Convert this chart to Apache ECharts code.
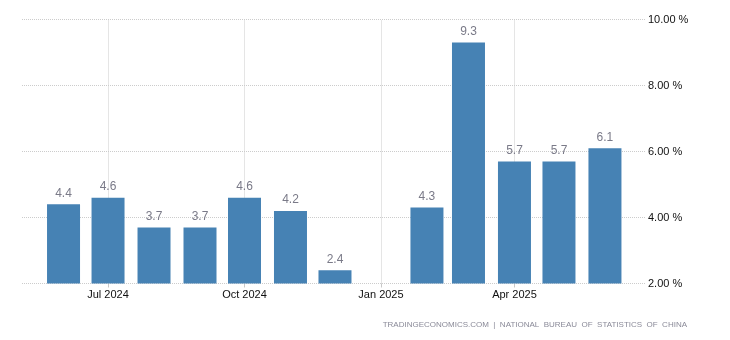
<!DOCTYPE html>
<html>
<head>
<meta charset="utf-8">
<script src="https://cdn.jsdelivr.net/npm/echarts@6/dist/echarts.min.js"></script>
<style>
  html, body { margin: 0; padding: 0; background: #fff; }
  #chart { width: 730px; height: 340px; }
</style>
</head>
<body>
<div id="chart"></div>
<script>
// Monthly readings (first of each month); January 2025 has no value.
const months = ['2024-06-01', '2024-07-01', '2024-08-01', '2024-09-01', '2024-10-01', '2024-11-01',
                '2024-12-01', '2025-01-01', '2025-02-01', '2025-03-01', '2025-04-01', '2025-05-01', '2025-06-01'];
const values = [4.4, 4.6, 3.7, 3.7, 4.6, 4.2, 2.4, null, 4.3, 9.3, 5.7, 5.7, 6.1];

// Quarterly tick marks along the date axis
const tickDates = ['2024-07-01', '2024-10-01', '2025-01-01', '2025-04-01'];
const yTicks = [2, 4, 6, 8, 10];
const sourceText = 'TRADINGECONOMICS.COM  |  NATIONAL  BUREAU  OF  STATISTICS  OF  CHINA';

const utc = s => { const [y, m, d] = s.split('-').map(Number); return Date.UTC(y, m - 1, d); };
const monthNames = ['Jan', 'Feb', 'Mar', 'Apr', 'May', 'Jun', 'Jul', 'Aug', 'Sep', 'Oct', 'Nov', 'Dec'];
const tickValues = tickDates.map(utc);

const seriesData = months.map((m, i) => values[i] == null ? null : [utc(m), values[i]]).filter(Boolean);

const chart = echarts.init(document.getElementById('chart'), null, { renderer: 'canvas' });
chart.setOption({
  animation: false,
  backgroundColor: '#fff',
  textStyle: { fontFamily: 'Liberation Sans, Arial, sans-serif' },
  grid: { left: 22, right: 85, top: 19.5, bottom: 56.5, containLabel: false },
  xAxis: {
    type: 'value',
    min: Date.UTC(2024, 4, 4),
    max: Date.UTC(2025, 5, 28),
    axisLine: { show: false },
    axisTick: { show: true, customValues: tickValues, length: 4, lineStyle: { color: '#c8c8c8' } },
    axisLabel: {
      customValues: tickValues,
      showMinLabel: true,
      showMaxLabel: true,
      margin: 6,
      fontSize: 11,
      color: '#111',
      formatter: v => { const d = new Date(v); return monthNames[d.getUTCMonth()] + ' ' + d.getUTCFullYear(); }
    },
    splitLine: { show: false }
  },
  yAxis: {
    type: 'value',
    position: 'right',
    min: yTicks[0],
    max: yTicks[yTicks.length - 1],
    interval: 2,
    axisLine: { show: false },
    axisTick: { show: false },
    axisLabel: {
      align: 'left', margin: 3, fontSize: 11, color: '#111',
      formatter: v => v.toFixed(2) + ' %'
    },
    splitLine: { show: true, lineStyle: { color: '#cccccc', type: [1, 1], width: 1 } }
  },
  series: [{
    type: 'bar',
    data: seriesData,
    barWidth: 33,
    itemStyle: { color: '#4682b4' },
    label: {
      show: true, position: 'top', distance: 5, fontSize: 12, color: '#7a7a88',
      formatter: p => p.value[1].toFixed(1)
    },
    markLine: {
      silent: true,
      symbol: 'none',
      label: { show: false },
      lineStyle: { color: '#cccccc', type: [1, 1], width: 1 },
      z: 0,
      data: tickValues.map(t => ({ xAxis: t }))
    },
    z: 2
  }],
  graphic: [{
    type: 'text',
    right: 43,
    top: 321,
    style: { text: sourceText, fontSize: 8, fill: '#8a8a98', fontFamily: 'Liberation Sans, Arial, sans-serif' }
  }]
});
</script>
</body>
</html>
